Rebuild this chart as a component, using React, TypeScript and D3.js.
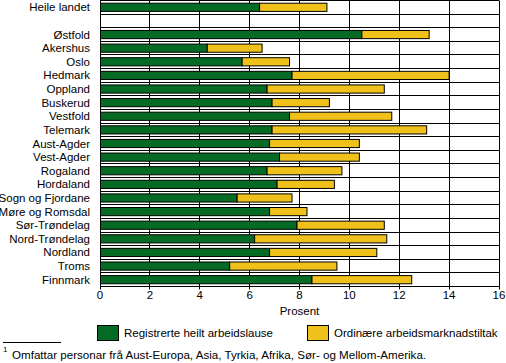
import React, { useEffect, useRef } from "react";
import * as d3 from "d3";

const regions = [
  "Heile landet",
  "",
  "Østfold",
  "Akershus",
  "Oslo",
  "Hedmark",
  "Oppland",
  "Buskerud",
  "Vestfold",
  "Telemark",
  "Aust-Agder",
  "Vest-Agder",
  "Rogaland",
  "Hordaland",
  "Sogn og Fjordane",
  "Møre og Romsdal",
  "Sør-Trøndelag",
  "Nord-Trøndelag",
  "Nordland",
  "Troms",
  "Finnmark",
];

// Registrerte heilt arbeidslause (null = blank row)
const registered = [
  6.4, null, 10.5, 4.3, 5.7, 7.7, 6.7, 6.9, 7.6, 6.9, 6.8, 7.2, 6.7, 7.1, 5.5,
  6.8, 7.9, 6.2, 6.8, 5.2, 8.5,
];
// Ordinære arbeidsmarknadstiltak
const measures = [
  2.7, null, 2.7, 2.2, 1.9, 6.3, 4.7, 2.3, 4.1, 6.2, 3.6, 3.2, 3.0, 2.3, 2.2,
  1.5, 3.5, 5.3, 4.3, 4.3, 4.0,
];

const xTicks = [0, 2, 4, 6, 8, 10, 12, 14, 16];
const seriesNames = ["Registrerte heilt arbeidslause", "Ordinære arbeidsmarknadstiltak"];
const colors = ["#056b24", "#f0c01b"];
const footnote = "Omfattar personar frå Aust-Europa, Asia, Tyrkia, Afrika, Sør- og Mellom-Amerika.";

const width = 506;
const height = 363;
const font = "'Liberation Sans', Arial, sans-serif";

export default function App() {
  const ref = useRef<SVGSVGElement>(null);

  useEffect(() => {
    const svg = d3.select(ref.current);
    svg.selectAll("*").remove();

    const left = 100;
    const right = 499;
    const top = 0.5;
    const bottom = 286.5;

    const keys = regions.map((r, i) => `${i}`);

    const x = d3.scaleLinear().domain([0, 16]).range([left, right]);
    const y = d3
      .scaleBand()
      .domain(keys)
      .range([top, bottom])
      .paddingInner(0.4)
      .paddingOuter(0.2);
    const step = y.step();
    const snap = (v: number) => Math.round(v - 0.5) + 0.5;

    // horizontal grid lines between rows
    svg
      .append("g")
      .selectAll("line")
      .data(d3.range(regions.length + 1))
      .join("line")
      .attr("x1", left)
      .attr("x2", right)
      .attr("y1", (i) => snap(top + i * step))
      .attr("y2", (i) => snap(top + i * step))
      .attr("stroke", "#000")
      .attr("stroke-width", 1);

    // vertical grid lines
    svg
      .append("g")
      .selectAll("line")
      .data(xTicks)
      .join("line")
      .attr("x1", (d) => snap(x(d)))
      .attr("x2", (d) => snap(x(d)))
      .attr("y1", top)
      .attr("y2", bottom + 3)
      .attr("stroke", "#000")
      .attr("stroke-width", 1);

    // stacked bars
    const rows = regions
      .map((name, i) => ({ key: keys[i], a: registered[i], b: measures[i] }))
      .filter((d) => d.a !== null);

    const bars = svg.append("g");
    bars
      .selectAll("rect.a")
      .data(rows)
      .join("rect")
      .attr("class", "a")
      .attr("x", snap(x(0)))
      .attr("y", (d) => y(d.key)!)
      .attr("width", (d) => x(d.a as number) - snap(x(0)))
      .attr("height", y.bandwidth())
      .attr("fill", colors[0])
      .attr("stroke", "#000")
      .attr("stroke-width", 1);
    bars
      .selectAll("rect.b")
      .data(rows)
      .join("rect")
      .attr("class", "b")
      .attr("x", (d) => x(d.a as number))
      .attr("y", (d) => y(d.key)!)
      .attr("width", (d) => x((d.a as number) + (d.b as number)) - x(d.a as number))
      .attr("height", y.bandwidth())
      .attr("fill", colors[1])
      .attr("stroke", "#000")
      .attr("stroke-width", 1);

    // category labels
    svg
      .append("g")
      .selectAll("text")
      .data(regions.map((r, i) => ({ r, k: keys[i] })))
      .join("text")
      .attr("x", 90)
      .attr("y", (d) => y(d.k)! + y.bandwidth() / 2)
      .attr("dy", "0.35em")
      .attr("text-anchor", "end")
      .attr("font-family", font)
      .attr("font-size", 11.5)
      .text((d) => d.r);

    // x tick labels
    svg
      .append("g")
      .selectAll("text")
      .data(xTicks)
      .join("text")
      .attr("x", (d) => x(d))
      .attr("y", 299)
      .attr("text-anchor", "middle")
      .attr("font-family", font)
      .attr("font-size", 11.5)
      .text((d) => d);

    // axis title
    svg
      .append("text")
      .attr("x", (left + right) / 2)
      .attr("y", 315)
      .attr("text-anchor", "middle")
      .attr("font-family", font)
      .attr("font-size", 11.5)
      .text("Prosent");

    // legend
    const legendX = [97, 307];
    seriesNames.forEach((name, i) => {
      svg
        .append("rect")
        .attr("x", legendX[i] + 0.5)
        .attr("y", 325.5)
        .attr("width", 21)
        .attr("height", 15)
        .attr("fill", colors[i])
        .attr("stroke", "#000");
      svg
        .append("text")
        .attr("x", legendX[i] + 27)
        .attr("y", 333)
        .attr("dy", "0.35em")
        .attr("font-family", font)
        .attr("font-size", 11.5)
        .text(name);
    });

    // footnote
    svg
      .append("line")
      .attr("x1", 3)
      .attr("x2", 61)
      .attr("y1", 342.5)
      .attr("y2", 342.5)
      .attr("stroke", "#000");
    svg
      .append("text")
      .attr("x", 3)
      .attr("y", 352)
      .attr("font-family", font)
      .attr("font-size", 8)
      .text("1");
    svg
      .append("text")
      .attr("x", 12)
      .attr("y", 359)
      .attr("font-family", font)
      .attr("font-size", 11.6)
      .text(footnote);
  }, []);

  return (
    <svg
      ref={ref}
      width={width}
      height={height}
      style={{ position: "absolute", left: 0, top: 0, background: "#fff" }}
    ></svg>
  );
}
